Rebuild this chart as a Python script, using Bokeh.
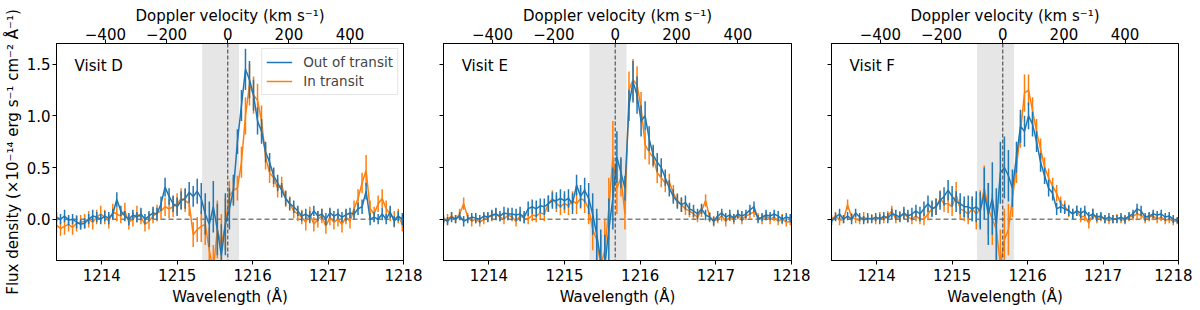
from bokeh.plotting import figure
from bokeh.layouts import row
from bokeh.models import (Range1d, LinearAxis, FixedTicker, CustomJSTickFormatter,
                          BoxAnnotation, Span, Label, Legend, LegendItem, ColumnDataSource)
from bokeh.embed import file_html
from bokeh.resources import INLINE

# ---------------- data ----------------
wave_start = 1213.40   # first pixel (Angstrom)
wave_step = 0.0533     # pixel size (Angstrom)
n_pix = 87
wavelength = [round(wave_start + wave_step * i, 4) for i in range(n_pix)]

lya_center = 1215.67
shade_range = [1215.33, 1215.82]
x_limits = [1213.4, 1218.0]
y_limits = [-0.4, 1.7]
wave_ticks = [1214, 1215, 1216, 1217, 1218]
vel_ticks = [-400, -200, 0, 200, 400]
flux_ticks = [0.0, 0.5, 1.0, 1.5]
visits = ["Visit D", "Visit E", "Visit F"]
series_labels = ["Out of transit", "In transit"]

D_out = [0.02, 0.00, 0.03, -0.01, 0.00, -0.03, -0.05, -0.04, 0.00, 0.03,
         0.02, 0.00, 0.03, 0.01, 0.05, 0.19, 0.08, 0.03, 0.00, 0.04,
         0.02, 0.05, 0.00, 0.03, 0.06, 0.05, 0.15, 0.31, 0.22, 0.15,
         0.12, 0.18, 0.20, 0.26, 0.22, 0.27, 0.20, 0.05, -0.05, 0.12,
         -0.10, -0.35, -0.05, 0.10, 0.28, 0.75, 1.10, 1.45, 1.35, 1.20,
         0.95, 0.85, 0.65, 0.55, 0.42, 0.35, 0.28, 0.20, 0.15, 0.12,
         0.08, 0.03, 0.05, 0.02, 0.08, 0.03, 0.05, 0.00, 0.06, 0.03,
         0.05, 0.02, 0.04, 0.06, 0.05, 0.10, 0.12, 0.27, 0.00, 0.02,
         0.00, 0.05, 0.00, 0.07, -0.02, 0.03, 0.00]
D_out_err = [0.05, 0.05, 0.06, 0.05, 0.05, 0.06, 0.05, 0.05, 0.05, 0.06,
             0.05, 0.05, 0.05, 0.06, 0.05, 0.07, 0.05, 0.05, 0.06, 0.05,
             0.05, 0.06, 0.05, 0.05, 0.06, 0.06, 0.07, 0.09, 0.08, 0.08,
             0.09, 0.09, 0.10, 0.10, 0.10, 0.12, 0.15, 0.20, 0.22, 0.25,
             0.25, 0.30, 0.30, 0.20, 0.15, 0.12, 0.15, 0.20, 0.18, 0.15,
             0.13, 0.12, 0.10, 0.09, 0.08, 0.08, 0.07, 0.07, 0.06, 0.06,
             0.05, 0.05, 0.05, 0.06, 0.05, 0.05, 0.05, 0.06, 0.05, 0.05,
             0.05, 0.05, 0.06, 0.05, 0.05, 0.06, 0.07, 0.08, 0.06, 0.05,
             0.05, 0.06, 0.05, 0.06, 0.05, 0.05, 0.06]
D_in = [-0.06, -0.09, -0.07, -0.05, -0.08, -0.04, -0.03, -0.02, 0.00, -0.03,
        0.02, 0.05, 0.02, -0.02, 0.07, 0.05, 0.03, 0.08, -0.03, 0.00,
        0.05, 0.02, -0.05, -0.02, 0.03, 0.06, 0.08, 0.12, 0.10, 0.12,
        0.15, 0.20, 0.18, 0.15, -0.15, -0.10, -0.07, -0.05, -0.30, -0.50,
        -0.10, -0.25, -0.05, 0.22, 0.28, 0.30, 0.55, 1.00, 1.30, 1.20,
        1.15, 0.95, 0.60, 0.45, 0.40, 0.30, 0.33, 0.20, 0.15, 0.08,
        0.05, 0.02, -0.03, 0.05, -0.05, 0.00, 0.03, -0.07, 0.02, -0.03,
        0.00, -0.05, 0.02, -0.02, 0.10, 0.20, 0.35, 0.47, 0.10, 0.05,
        0.15, 0.20, 0.10, 0.05, 0.00, 0.03, -0.05]
D_in_err = [0.07, 0.07, 0.08, 0.07, 0.07, 0.08, 0.07, 0.07, 0.08, 0.07,
            0.07, 0.08, 0.07, 0.07, 0.08, 0.07, 0.07, 0.08, 0.07, 0.07,
            0.08, 0.07, 0.07, 0.08, 0.07, 0.08, 0.08, 0.09, 0.09, 0.10,
            0.10, 0.10, 0.11, 0.12, 0.12, 0.12, 0.15, 0.20, 0.22, 0.25,
            0.28, 0.30, 0.25, 0.15, 0.12, 0.12, 0.15, 0.18, 0.20, 0.18,
            0.16, 0.15, 0.12, 0.10, 0.09, 0.09, 0.08, 0.08, 0.07, 0.07,
            0.07, 0.07, 0.08, 0.07, 0.07, 0.08, 0.07, 0.07, 0.08, 0.07,
            0.07, 0.08, 0.07, 0.07, 0.08, 0.09, 0.10, 0.15, 0.08, 0.07,
            0.08, 0.09, 0.08, 0.07, 0.08, 0.07, 0.07]

E_out = [0.00, -0.02, 0.02, 0.00, 0.03, -0.02, 0.00, 0.02, 0.01, 0.00,
         0.03, 0.02, 0.04, 0.05, 0.03, 0.06, 0.05, 0.05, 0.04, 0.05,
         0.02, 0.10, 0.12, 0.10, 0.13, 0.12, 0.15, 0.18, 0.18, 0.20,
         0.18, 0.20, 0.15, 0.33, 0.22, 0.28, 0.20, 0.05, -0.15, -0.40,
         -0.45, -0.10, 0.20, 0.60, 0.45, 0.30, 1.10, 1.33, 1.20, 0.95,
         1.00, 0.78, 0.62, 0.55, 0.50, 0.40, 0.30, 0.22, 0.17, 0.14,
         0.16, 0.10, 0.08, 0.05, 0.10, 0.04, 0.02, -0.02, 0.03, 0.06,
         0.02, 0.04, 0.01, 0.05, 0.03, 0.05, 0.09, 0.12, 0.00, 0.02,
         0.04, 0.03, 0.05, 0.03, 0.00, 0.02, 0.01]
E_out_err = [0.04, 0.04, 0.05, 0.04, 0.04, 0.05, 0.04, 0.04, 0.05, 0.04,
             0.04, 0.05, 0.05, 0.06, 0.05, 0.06, 0.06, 0.06, 0.06, 0.07,
             0.06, 0.07, 0.07, 0.08, 0.07, 0.08, 0.08, 0.08, 0.08, 0.09,
             0.09, 0.09, 0.10, 0.10, 0.11, 0.12, 0.15, 0.20, 0.25, 0.30,
             0.30, 0.30, 0.30, 0.25, 0.15, 0.12, 0.15, 0.20, 0.18, 0.15,
             0.14, 0.12, 0.10, 0.09, 0.09, 0.08, 0.08, 0.07, 0.07, 0.07,
             0.07, 0.06, 0.06, 0.05, 0.05, 0.05, 0.04, 0.04, 0.05, 0.04,
             0.04, 0.05, 0.04, 0.04, 0.05, 0.04, 0.05, 0.05, 0.04, 0.04,
             0.05, 0.04, 0.04, 0.05, 0.04, 0.04, 0.04]
E_in = [-0.02, 0.00, 0.03, 0.00, 0.05, 0.15, 0.02, -0.02, 0.00, -0.03,
        0.00, 0.02, 0.03, 0.05, 0.02, 0.00, 0.04, 0.02, -0.02, 0.03,
        0.01, 0.00, 0.04, 0.03, 0.06, 0.05, 0.15, 0.20, 0.15, 0.12,
        0.15, 0.13, 0.18, 0.15, 0.20, 0.18, 0.10, -0.10, -0.20, -0.45,
        -0.30, 0.10, 0.60, 0.30, 0.40, 0.05, 1.25, 1.35, 1.30, 1.08,
        0.72, 0.65, 0.60, 0.45, 0.40, 0.35, 0.36, 0.25, 0.18, 0.14,
        0.10, 0.08, 0.05, 0.02, 0.08, 0.18, 0.02, -0.02, 0.00, 0.03,
        -0.02, 0.02, 0.00, 0.04, 0.00, 0.03, 0.05, 0.07, 0.02, 0.00,
        0.03, 0.00, 0.02, -0.02, 0.00, -0.03, -0.02]
E_in_err = [0.04, 0.05, 0.04, 0.04, 0.05, 0.06, 0.04, 0.05, 0.04, 0.04,
            0.05, 0.04, 0.05, 0.05, 0.04, 0.05, 0.05, 0.04, 0.05, 0.05,
            0.05, 0.05, 0.06, 0.06, 0.06, 0.07, 0.08, 0.08, 0.08, 0.08,
            0.09, 0.09, 0.09, 0.10, 0.10, 0.12, 0.15, 0.20, 0.25, 0.30,
            0.30, 0.30, 0.35, 0.25, 0.18, 0.15, 0.18, 0.20, 0.18, 0.15,
            0.14, 0.12, 0.10, 0.10, 0.09, 0.09, 0.08, 0.08, 0.07, 0.07,
            0.06, 0.06, 0.05, 0.05, 0.06, 0.06, 0.05, 0.05, 0.04, 0.05,
            0.05, 0.04, 0.05, 0.04, 0.05, 0.04, 0.05, 0.05, 0.04, 0.05,
            0.04, 0.05, 0.04, 0.04, 0.05, 0.04, 0.04]

F_out = [-0.02, 0.02, 0.05, 0.00, 0.03, 0.00, 0.06, 0.02, -0.01, 0.01,
         0.00, 0.02, 0.00, 0.03, 0.01, 0.05, 0.04, 0.02, 0.06, 0.03,
         0.05, 0.08, 0.05, 0.10, 0.15, 0.10, 0.12, 0.18, 0.22, 0.28,
         0.22, 0.17, 0.15, 0.12, 0.12, 0.10, 0.12, 0.08, 0.25, 0.05,
         0.20, -0.05, 0.45, 0.50, 0.42, 0.30, 0.60, 0.90, 0.85, 1.00,
         0.92, 0.75, 0.55, 0.42, 0.30, 0.25, 0.10, 0.12, 0.10, 0.08,
         0.05, 0.08, 0.06, 0.08, 0.03, 0.05, 0.02, 0.03, 0.00, 0.02,
         0.00, 0.00, 0.02, 0.00, 0.03, 0.05, 0.10, 0.08, 0.02, 0.03,
         0.05, 0.04, 0.05, 0.02, 0.03, 0.00, -0.01]
F_out_err = [0.04, 0.04, 0.05, 0.04, 0.04, 0.05, 0.04, 0.04, 0.04, 0.05,
             0.04, 0.04, 0.05, 0.04, 0.05, 0.05, 0.05, 0.05, 0.06, 0.06,
             0.06, 0.06, 0.07, 0.07, 0.08, 0.08, 0.08, 0.09, 0.09, 0.10,
             0.10, 0.10, 0.10, 0.10, 0.11, 0.12, 0.15, 0.18, 0.25, 0.30,
             0.35, 0.35, 0.30, 0.30, 0.25, 0.18, 0.15, 0.16, 0.15, 0.13,
             0.12, 0.10, 0.09, 0.08, 0.08, 0.07, 0.06, 0.06, 0.05, 0.05,
             0.05, 0.05, 0.05, 0.05, 0.04, 0.05, 0.04, 0.04, 0.04, 0.04,
             0.04, 0.04, 0.04, 0.04, 0.04, 0.04, 0.05, 0.05, 0.04, 0.04,
             0.04, 0.04, 0.04, 0.04, 0.04, 0.04, 0.03]
F_in = [0.00, 0.03, -0.01, 0.00, 0.14, 0.02, 0.00, -0.01, 0.02, 0.00,
        0.01, -0.01, 0.02, 0.00, 0.03, 0.08, 0.00, 0.03, 0.05, 0.02,
        0.00, 0.03, 0.00, 0.00, 0.05, 0.10, 0.12, 0.20, 0.15, 0.15,
        0.12, 0.24, 0.10, 0.08, 0.05, 0.10, 0.05, 0.10, 0.30, 0.10,
        0.00, -0.10, -0.45, -0.20, -0.10, 0.20, 0.50, 0.85, 1.22, 1.25,
        1.05, 0.85, 0.68, 0.50, 0.40, 0.32, 0.25, 0.15, 0.12, 0.08,
        0.05, 0.08, 0.02, 0.03, -0.04, 0.05, 0.00, 0.02, 0.00, -0.01,
        0.00, 0.01, 0.00, -0.01, 0.02, 0.03, 0.05, 0.04, 0.00, 0.02,
        0.03, 0.00, 0.02, -0.01, 0.00, -0.02, -0.02]
F_in_err = [0.04, 0.04, 0.05, 0.04, 0.05, 0.04, 0.04, 0.04, 0.05, 0.04,
            0.04, 0.04, 0.05, 0.04, 0.05, 0.05, 0.04, 0.05, 0.05, 0.05,
            0.05, 0.05, 0.05, 0.06, 0.06, 0.07, 0.08, 0.08, 0.08, 0.09,
            0.09, 0.12, 0.10, 0.10, 0.10, 0.12, 0.15, 0.18, 0.22, 0.25,
            0.25, 0.30, 0.35, 0.30, 0.25, 0.18, 0.15, 0.16, 0.18, 0.15,
            0.13, 0.12, 0.10, 0.10, 0.09, 0.08, 0.08, 0.07, 0.06, 0.06,
            0.05, 0.05, 0.05, 0.05, 0.05, 0.05, 0.04, 0.04, 0.04, 0.04,
            0.04, 0.04, 0.04, 0.04, 0.04, 0.04, 0.05, 0.04, 0.04, 0.04,
            0.04, 0.04, 0.04, 0.04, 0.04, 0.04, 0.03]

panels = [
    (visits[0], D_out, D_out_err, D_in, D_in_err),
    (visits[1], E_out, E_out_err, E_in, E_in_err),
    (visits[2], F_out, F_out_err, F_in, F_in_err),
]

# ---------------- styling ----------------
C_OUT = "#1f77b4"
C_IN = "#ff7f0e"
FONT = "DejaVu Sans"
FS = "15px"
SPEED_OF_LIGHT = 299792.458
vel_min = (x_limits[0] - lya_center) / lya_center * SPEED_OF_LIGHT
vel_max = (x_limits[1] - lya_center) / lya_center * SPEED_OF_LIGHT

FRAME_H = 217
# (frame width, min_border_left, min_border_right)
geom = [(347, 56, 20), (348, 20, 20), (347, 20, 14)]


def style_axis(ax):
    ax.axis_line_color = "black"
    ax.axis_line_width = 1
    ax.major_tick_line_color = "black"
    ax.major_tick_out = 4
    ax.major_tick_in = 0
    ax.minor_tick_out = 0
    ax.minor_tick_in = 0
    ax.major_label_text_font = FONT
    ax.major_label_text_font_size = FS
    ax.major_label_text_color = "black"
    ax.major_label_standoff = 4
    ax.axis_label_text_font = FONT
    ax.axis_label_text_font_size = FS
    ax.axis_label_text_font_style = "normal"
    ax.axis_label_text_color = "black"
    ax.axis_label_standoff = 4


figs = []
for k, (visit, f_out, e_out, f_in, e_in) in enumerate(panels):
    fw, bl, br = geom[k]
    p = figure(frame_width=fw, frame_height=FRAME_H,
               x_range=Range1d(*x_limits), y_range=Range1d(*y_limits),
               output_backend="svg", toolbar_location=None,
               min_border_left=bl, min_border_right=br,
               min_border_top=43, min_border_bottom=44)
    p.extra_x_ranges = {"vel": Range1d(vel_min, vel_max)}
    p.grid.visible = False
    p.outline_line_color = "black"
    p.outline_line_width = 1
    p.background_fill_color = "white"
    p.border_fill_color = "white"

    # bottom axis
    xa = p.xaxis[0]
    style_axis(xa)
    xa.ticker = FixedTicker(ticks=wave_ticks)
    xa.axis_label = "Wavelength (Å)"

    # top axis: Doppler velocity
    top = LinearAxis(x_range_name="vel", axis_label="Doppler velocity (km s⁻¹)")
    style_axis(top)
    top.major_label_standoff = 0
    top.axis_label_standoff = 0
    top.ticker = FixedTicker(ticks=vel_ticks)
    top.formatter = CustomJSTickFormatter(
        code="return tick < 0 ? '\u2212' + Math.abs(tick) : String(tick);")
    p.add_layout(top, "above")

    # left axis
    ya = p.yaxis[0]
    style_axis(ya)
    ya.ticker = FixedTicker(ticks=flux_ticks)
    if k == 0:
        ya.formatter = CustomJSTickFormatter(code="return tick.toFixed(1);")
        ya.axis_label = "Flux density (×10⁻¹⁴ erg s⁻¹ cm⁻² Å⁻¹)"
        ya.major_label_standoff = 2
        ya.axis_label_standoff = 2
    else:
        ya.formatter = CustomJSTickFormatter(code="return '';")
        ya.major_label_standoff = 0

    # shaded core region & reference lines
    p.add_layout(BoxAnnotation(left=shade_range[0], right=shade_range[1],
                               fill_color="gray", fill_alpha=0.2,
                               line_color=None, level="underlay"))
    p.add_layout(Span(location=0.0, dimension="width", line_color="gray",
                      line_dash="5 3", line_width=1.5, level="underlay"))

    # data
    src_in = ColumnDataSource(dict(x=wavelength, y=f_in,
                                   lo=[a - b for a, b in zip(f_in, e_in)],
                                   hi=[a + b for a, b in zip(f_in, e_in)]))
    src_out = ColumnDataSource(dict(x=wavelength, y=f_out,
                                    lo=[a - b for a, b in zip(f_out, e_out)],
                                    hi=[a + b for a, b in zip(f_out, e_out)]))
    p.segment(x0="x", y0="lo", x1="x", y1="hi", source=src_in,
              line_color=C_IN, line_width=1.5)
    l_in = p.line("x", "y", source=src_in, line_color=C_IN, line_width=1.5)
    p.segment(x0="x", y0="lo", x1="x", y1="hi", source=src_out,
              line_color=C_OUT, line_width=1.5)
    l_out = p.line("x", "y", source=src_out, line_color=C_OUT, line_width=1.5)

    p.add_layout(Span(location=lya_center, dimension="height", line_color="#555555",
                      line_dash="4 2", line_width=1.2))

    p.add_layout(Label(x=1213.64, y=1.483, text=visit, text_baseline="alphabetic",
                       text_font=FONT, text_font_size=FS, text_color="black"))

    if k == 0:
        m_out = p.scatter(x=[], y=[], marker="cross", size=8,
                          line_color=C_OUT, line_width=1.5)
        m_in = p.scatter(x=[], y=[], marker="cross", size=8,
                         line_color=C_IN, line_width=1.5)
        leg = Legend(items=[LegendItem(label=series_labels[0], renderers=[l_out, m_out]),
                            LegendItem(label=series_labels[1], renderers=[l_in, m_in])],
                     location="top_right")
        leg.label_text_font = FONT
        leg.label_text_font_size = "13.5px"
        leg.glyph_width = 26
        leg.glyph_height = 18
        leg.label_height = 18
        leg.label_standoff = 11
        leg.spacing = 1
        leg.padding = 4
        leg.margin = 5
        leg.border_line_color = "#cccccc"
        leg.border_line_width = 1
        leg.background_fill_alpha = 0.8
        p.add_layout(leg)

    figs.append(p)

layout = row(*figs, spacing=0)
open("out.html", "w").write(file_html(layout, INLINE))
